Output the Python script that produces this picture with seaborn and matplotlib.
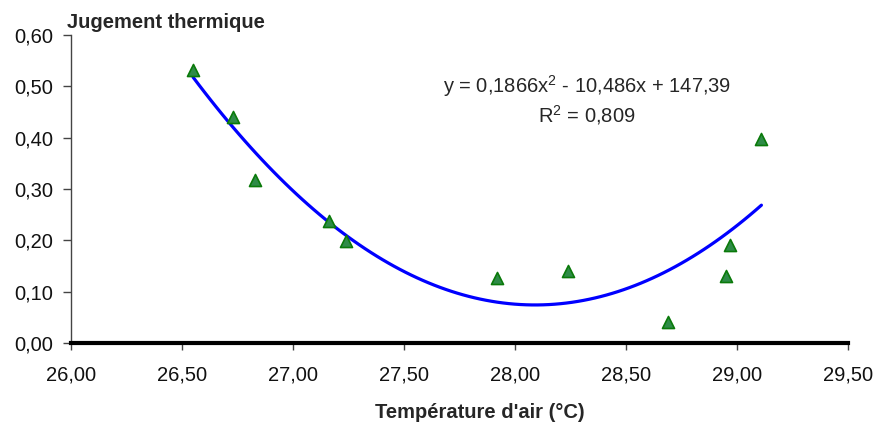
import pandas as pd
import matplotlib
matplotlib.use("Agg")
import matplotlib.pyplot as plt
import seaborn as sns
from matplotlib.ticker import FuncFormatter

# -------------------------------
# Data
# -------------------------------
temperature = [26.55, 26.73, 26.83, 27.16, 27.24, 27.92, 28.24, 28.69, 28.95, 28.97, 29.11]
judgement = [0.532, 0.441, 0.318, 0.238, 0.199, 0.126, 0.141, 0.040, 0.131, 0.190, 0.397]
x_ticks = [26.0, 26.5, 27.0, 27.5, 28.0, 28.5, 29.0, 29.5]
y_ticks = [0.0, 0.1, 0.2, 0.3, 0.4, 0.5, 0.6]
equation = "y = 0,1866x$^{2}$ - 10,486x + 147,39"
r2_text = "R$^{2}$ = 0,809"

df = pd.DataFrame({"temp": temperature, "jugement": judgement})

# -------------------------------
# Style
# -------------------------------
sns.set_style("ticks")
plt.rcParams["font.family"] = ["Liberation Sans", "DejaVu Sans"]
plt.rcParams["mathtext.fontset"] = "custom"
plt.rcParams["mathtext.rm"] = "Liberation Sans"
plt.rcParams["mathtext.it"] = "Liberation Sans"
plt.rcParams["mathtext.default"] = "regular"
plt.rcParams["font.size"] = 14.5

fig = plt.figure(figsize=(8.75, 4.25), dpi=100)
ax = fig.add_axes([71 / 875, 1 - 343 / 425, 777 / 875, 308 / 425])

# points
sns.scatterplot(data=df, x="temp", y="jugement", marker="^", s=75,
                color="#2e8b47", edgecolor="#0a7a0a", linewidth=1.2,
                zorder=3, ax=ax)
# polynomial trend (order 2)
sns.regplot(data=df, x="temp", y="jugement", order=2, ci=None,
            scatter=False, line_kws={"color": "#0000ff", "linewidth": 2.3},
            ax=ax)

ax.set_xlim(26.0, 29.5)
ax.set_ylim(0.0, 0.6)
ax.set_xticks(x_ticks)
ax.set_yticks(y_ticks)
comma = FuncFormatter(lambda v, p: f"{v:.2f}".replace(".", ","))
ax.xaxis.set_major_formatter(comma)
ax.yaxis.set_major_formatter(comma)
ax.tick_params(axis="both", labelsize=14.5, labelcolor="#111111",
               color="#444444", length=5, width=1)
ax.tick_params(axis="x", pad=11)
ax.tick_params(axis="y", pad=7, length=6)

for side in ["top", "right"]:
    ax.spines[side].set_visible(False)
ax.spines["left"].set_color("#444444")
ax.spines["left"].set_linewidth(1)
ax.spines["bottom"].set_color("black")
ax.spines["bottom"].set_linewidth(3)

ax.set_xlabel("")
ax.set_ylabel("")

fig.text(67 / 875, 1 - 22 / 425, "Jugement thermique", fontsize=14.5,
         fontweight="bold", ha="left", va="center")
fig.text(480 / 875, 1 - 412 / 425, "Température d'air (°C)", fontsize=14.5,
         fontweight="bold", ha="center", va="center")

fig.text(587 / 875, 1 - 86 / 425, equation, fontsize=14.5, ha="center", va="center")
fig.text(587 / 875, 1 - 115 / 425, r2_text, fontsize=14.5, ha="center", va="center")

plt.savefig("out.png", dpi=100)
